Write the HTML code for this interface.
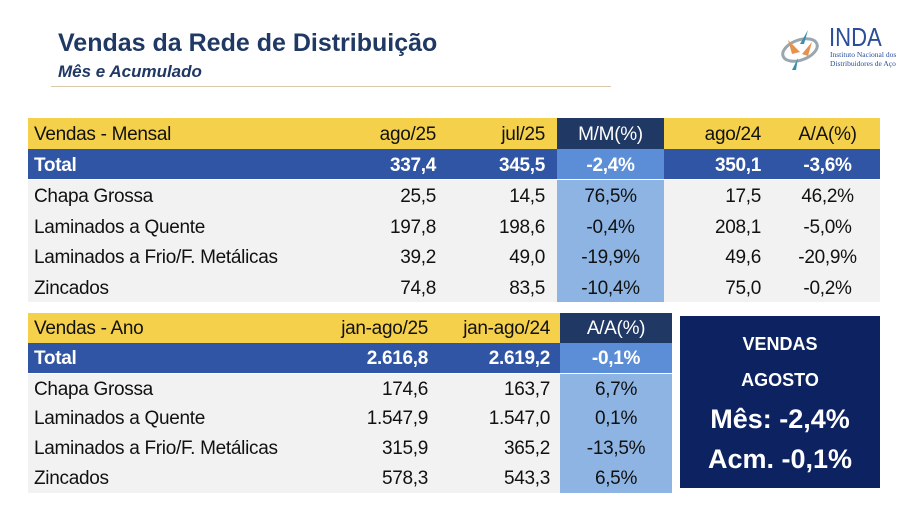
<!DOCTYPE html>
<html><head><meta charset="utf-8"><style>
body{margin:0;width:917px;height:520px;background:#fff;position:relative;overflow:hidden;font-family:"Liberation Sans",sans-serif;}
.abs{position:absolute;}
.cell{position:absolute;box-sizing:border-box;white-space:nowrap;font-size:19px;line-height:30px;color:#111;letter-spacing:-0.3px;}
.r{text-align:right;} .c{text-align:center;}
</style></head><body>
<div class="abs" style="left:58px;top:29px;font-size:25px;font-weight:bold;color:#1F3864;">Vendas da Rede de Distribuição</div>
<div class="abs" style="left:58px;top:62px;font-size:17px;font-weight:bold;font-style:italic;color:#1F3864;">Mês e Acumulado</div>
<div class="abs" style="left:51px;top:86px;width:560px;height:1px;background:#D9C9A8;"></div>
<div class="abs" style="left:778px;top:26px;width:125px;height:45px;">
<svg width="48" height="45" style="position:absolute;left:0;top:0"><ellipse cx="22" cy="24" rx="18" ry="10" fill="none" stroke="#9AA6B0" stroke-width="3" transform="rotate(-20 22 24)"/><path d="M30 4 L22 18 L26 18 Z" fill="#3C8FA5"/><path d="M10 14 L22 26 L14 28Z" fill="#E8914A"/><path d="M34 16 L24 28 L30 30Z" fill="#E8914A"/><path d="M20 32 L14 44 L18 44Z" fill="#3C8FA5"/></svg>
<div class="abs" style="left:51px;top:-4px;font-size:26px;color:#2A4E9A;transform:scaleX(0.85);transform-origin:left;">INDA</div>
<div class="abs" style="left:52px;top:24px;font-size:7.5px;line-height:9px;color:#2A4E9A;font-family:'Liberation Serif',serif;">Instituto Nacional dos<br>Distribuidores de Aço</div>
</div>
<div id="t1"></div>
<div id="t2"></div>
<div class="abs" style="left:680px;top:316px;width:200px;height:172px;background:#0D2260;color:#fff;font-weight:bold;text-align:center;">
<div class="abs" style="left:0;width:200px;top:18px;font-size:18px;">VENDAS</div>
<div class="abs" style="left:0;width:200px;top:54px;font-size:18px;">AGOSTO</div>
<div class="abs" style="left:0;width:200px;top:88px;font-size:27px;">Mês: -2,4%</div>
<div class="abs" style="left:0;width:200px;top:128px;font-size:27px;">Acm. -0,1%</div>
</div>
<script>
const monthlyHeader=["Vendas - Mensal","ago/25","jul/25","M/M(%)","ago/24","A/A(%)"];
const monthlyRows=[["Total","337,4","345,5","-2,4%","350,1","-3,6%"],["Chapa Grossa","25,5","14,5","76,5%","17,5","46,2%"],["Laminados a Quente","197,8","198,6","-0,4%","208,1","-5,0%"],["Laminados a Frio/F. Metálicas","39,2","49,0","-19,9%","49,6","-20,9%"],["Zincados","74,8","83,5","-10,4%","75,0","-0,2%"]];
const annualHeader=["Vendas - Ano","jan-ago/25","jan-ago/24","A/A(%)"];
const annualRows=[["Total","2.616,8","2.619,2","-0,1%"],["Chapa Grossa","174,6","163,7","6,7%"],["Laminados a Quente","1.547,9","1.547,0","0,1%"],["Laminados a Frio/F. Metálicas","315,9","365,2","-13,5%"],["Zincados","578,3","543,3","6,5%"]];
function build(host,header,rows,top,rowH,cols,hiCol){
  const all=[header].concat(rows);
  all.forEach((row,ri)=>{
    const y=top+ri*rowH+(ri>1?1:0);
    const bg=ri===0?'#F5D04B':ri===1?'#2F55A4':'#F2F2F2';
    const band=document.createElement('div');band.className='abs';
    
    
    band.style.cssText=`left:28px;top:${y}px;width:${cols[cols.length-1].r-28}px;height:${rowH}px;background:${bg}`;
    host.appendChild(band);
    row.forEach((txt,ci)=>{
      const col=cols[ci];
      const d=document.createElement('div');
      
      
      d.className='cell '+(col.a||'');
      let cbg='';
      if(ci===hiCol){cbg=ri===0?'#1F3864':ri===1?'#5B8ED6':'#8DB4E2';}
      const color=(ri===1||(ri===0&&ci===hiCol))?'#fff':'#111';
      d.style.cssText=`left:${col.l}px;width:${col.r-col.l}px;top:${y}px;height:${rowH}px;line-height:${rowH+3}px;color:${color};${cbg?'background:'+cbg+';':''}padding:0 ${col.p||0}px 0 ${ci===0?6:0}px;${ri===1?'font-weight:bold;':''}`;
      d.textContent=txt;host.appendChild(d);
    });
  });
}
build(document.getElementById('t1'),monthlyHeader,monthlyRows,118,30.5,
 [{l:28,r:340},{l:340,r:446,a:'r',p:10},{l:446,r:557,a:'r',p:12},{l:557,r:664,a:'c'},{l:664,r:775,a:'r',p:14},{l:775,r:880,a:'c'}],3);
build(document.getElementById('t2'),annualHeader,annualRows,313,29.8,
 [{l:28,r:330},{l:330,r:448,a:'r',p:20},{l:448,r:560,a:'r',p:10},{l:560,r:672,a:'c'}],3);
</script>
</body></html>
